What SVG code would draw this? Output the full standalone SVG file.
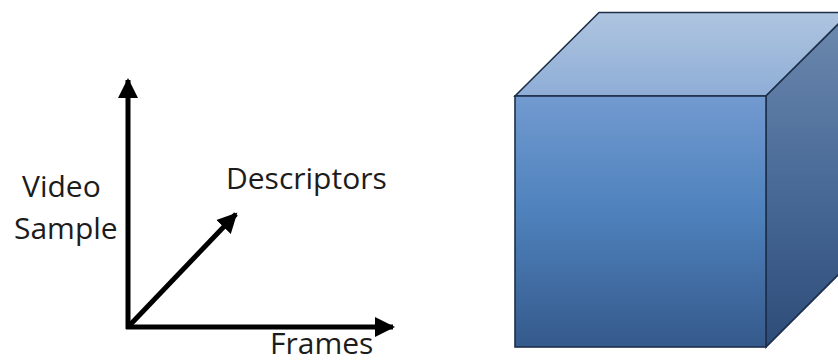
<svg xmlns="http://www.w3.org/2000/svg" width="838" height="362" viewBox="0 0 838 362">
  <style>
    .axis { stroke: #000; stroke-width: 5; fill: none; }
    .label { font-family: "Open Sans", "Liberation Sans", sans-serif; font-size: 30px; fill: #1c1c1c; }
    .edge { stroke: #1d2f4a; stroke-width: 1.6; stroke-linejoin: miter; }
  </style>
  <defs>
    <marker id="head" markerUnits="userSpaceOnUse" markerWidth="22" markerHeight="22" refX="18" refY="10" orient="auto">
      <path d="M0,0 L20,10 L0,20 Z" fill="#000"/>
    </marker>
    <linearGradient id="frontFill" x1="0" y1="0" x2="0" y2="1">
      <stop offset="0" stop-color="#729ad0"/>
      <stop offset="0.45" stop-color="#4f82bd"/>
      <stop offset="1" stop-color="#355a8c"/>
    </linearGradient>
    <linearGradient id="topFill" x1="0" y1="0" x2="0" y2="1">
      <stop offset="0" stop-color="#afc5e0"/>
      <stop offset="1" stop-color="#8eadd6"/>
    </linearGradient>
    <linearGradient id="sideFill" x1="0" y1="0" x2="0" y2="1">
      <stop offset="0" stop-color="#6d89ae"/>
      <stop offset="0.5" stop-color="#4a6b98"/>
      <stop offset="1" stop-color="#2e4c78"/>
    </linearGradient>
  </defs>

  <!-- coordinate axes -->
  <g id="axes">
    <line class="axis" x1="128" y1="329" x2="128" y2="80" marker-end="url(#head)"/>
    <line class="axis" x1="126" y1="327" x2="393" y2="327" marker-end="url(#head)"/>
    <line class="axis" x1="128" y1="327" x2="236" y2="214" marker-end="url(#head)"/>
  </g>

  <g id="label-video-sample">
    <text class="label" x="22" y="197">Video</text>
    <text class="label" x="14" y="239">Sample</text>
  </g>
  <g id="label-descriptors">
    <text class="label" x="226" y="189">Descriptors</text>
  </g>
  <g id="label-frames">
    <text class="label" x="270" y="354" font-size="29">Frames</text>
  </g>

  <!-- data cube -->
  <g id="cube">
    <polygon class="edge" points="515,96 599,12.5 850,12.5 766,96" fill="url(#topFill)"/>
    <polygon class="edge" points="766,96 850,12.5 850,263 766,347" fill="url(#sideFill)"/>
    <rect class="edge" x="515" y="96" width="251" height="251" fill="url(#frontFill)"/>
  </g>
</svg>
